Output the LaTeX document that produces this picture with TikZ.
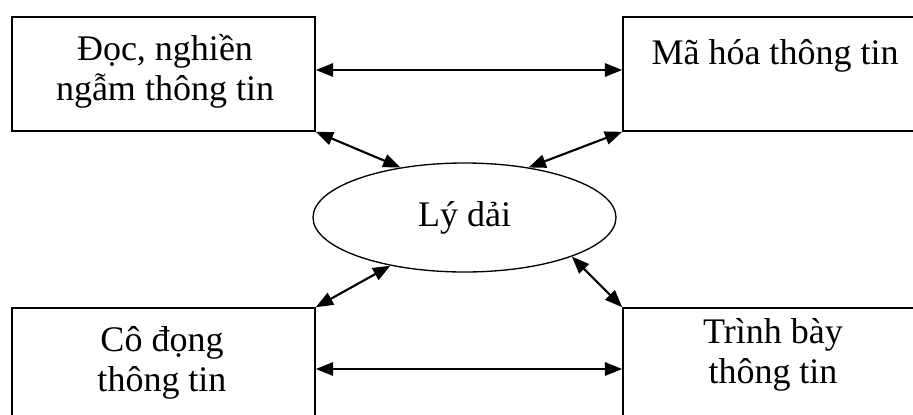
\documentclass[tikz,border=0pt]{standalone}
\usepackage{fontspec}
\setmainfont{Liberation Serif}
\usepackage{tikz}
\usetikzlibrary{arrows.meta,shapes.geometric}

\tikzset{
  box/.style={draw, line width=1.2pt, minimum width=227.25pt, minimum height=85.5pt, inner sep=0pt},
  ell/.style={ellipse, draw, line width=1pt, minimum width=227.25pt, minimum height=81.75pt, inner sep=0pt, font=\fontsize{27}{30}\selectfont},
  txt/.style={align=center, inner sep=0pt, font=\fontsize{27}{30}\selectfont},
  arr/.style={line width=1.6pt, {Triangle[length=13pt,width=10pt]}-{Triangle[length=13pt,width=10pt]}}
}

\begin{document}
\begin{tikzpicture}[x=0.75pt,y=0.75pt,yscale=-1,xscale=1]
				\useasboundingbox (0,0) rectangle (913,414);
				\clip (0,0) rectangle (913,414);
				
				%Shape: Rectangle [tl]
				\node[box] (tl) at (163.5,74) {};
				%Shape: Rectangle [tr]
				\node[box] (tr) at (774.5,74) {};
				%Shape: Rectangle [bl]
				\node[box] (bl) at (163.5,365) {};
				%Shape: Rectangle [br]
				\node[box] (br) at (774.5,365) {};
				%Shape: Ellipse [ly]
				\node[ell] (ly) at (464.5,217.5) {Lý dải};
				
				% Text Node
				\node[txt] (tltext) at (165,71) {Đọc, nghiền\\ngẫm thông tin};
				% Text Node
				\node[txt] (trtext) at (775,56) {Mã hóa thông tin};
				% Text Node
				\node[txt] (bltext) at (162,363) {Cô đọng\\thông tin};
				% Text Node
				\node[txt] (brtext) at (773,355) {Trình bày\\thông tin};
				
				%Straight Lines
				\draw[arr] ([yshift=-3pt]tl.east) -- ([yshift=-3pt]tr.west);
				\draw[arr] ([yshift=3pt]bl.east) -- ([yshift=3pt]br.west);
				\draw[arr] (tl.south east) -- (ly.142);
				\draw[arr] (tr.south west) -- (ly.38);
				\draw[arr] (bl.north east) -- (ly.213);
				\draw[arr] (br.north west) -- (ly.340);
				
\end{tikzpicture}
\end{document}
